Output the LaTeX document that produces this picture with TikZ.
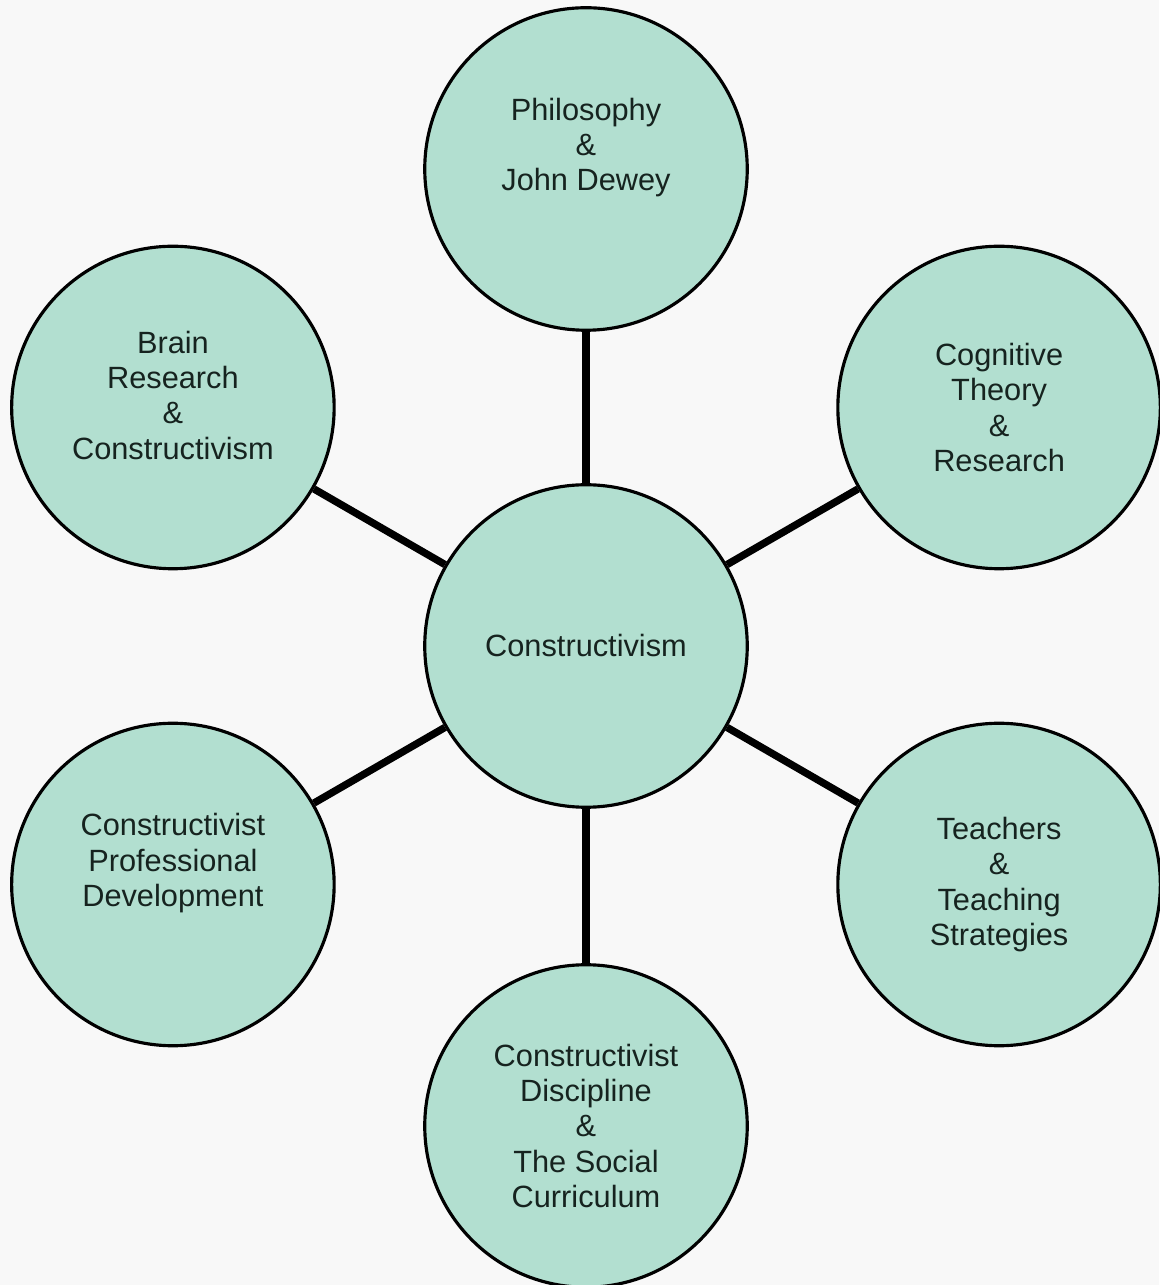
\documentclass[tikz,border=0pt]{standalone}
\usepackage{fontspec}
\setmainfont{Liberation Sans}
\usepackage{xcolor}
\usetikzlibrary{arrows}
\definecolor{bubblefill}{HTML}{B2DFD0}
\definecolor{paper}{HTML}{F8F8F8}
\definecolor{inkdark}{HTML}{16231F}

\begin{document}
\begin{tikzpicture}[auto,
				topic node/.style={circle,fill=bubblefill,draw=black,line width=1.8pt,minimum size=6.45cm,
				inner sep=0pt,align=center,text=inkdark,font=\fontsize{17.5}{20}\selectfont}]
				
				% background and page size
				\fill[paper] (-11.72,12.92) rectangle (11.46,-12.78);
				\useasboundingbox (-11.72,12.92) rectangle (11.46,-12.78);
				
				\node[topic node] (c) at (0,0) {Constructivism};
				\node[topic node] (phil) at (90:9.54) {Philosophy\\\&\\John Dewey\\[8pt]};
				\node[topic node] (cog) at (30:9.54) {Cognitive\\Theory\\\&\\Research};
				\node[topic node] (teach) at (-30:9.54) {Teachers\\\&\\Teaching\\Strategies};
				\node[topic node] (disc) at (-90:9.6) {Constructivist\\Discipline\\\&\\The Social\\Curriculum};
				\node[topic node] (prof) at (-150:9.54) {Constructivist\\Professional\\Development\\[8pt]};
				\node[topic node] (brain) at (150:9.54) {Brain\\Research\\\&\\Constructivism\\[-6pt]};
				
				\path[draw=black,line width=4.2pt]
				(c) edge (phil)
				(c) edge (cog)
				(c) edge (teach)
				(c) edge (disc)
				(c) edge (prof)
				(c) edge (brain)
				;
				\end{tikzpicture}
\end{document}
